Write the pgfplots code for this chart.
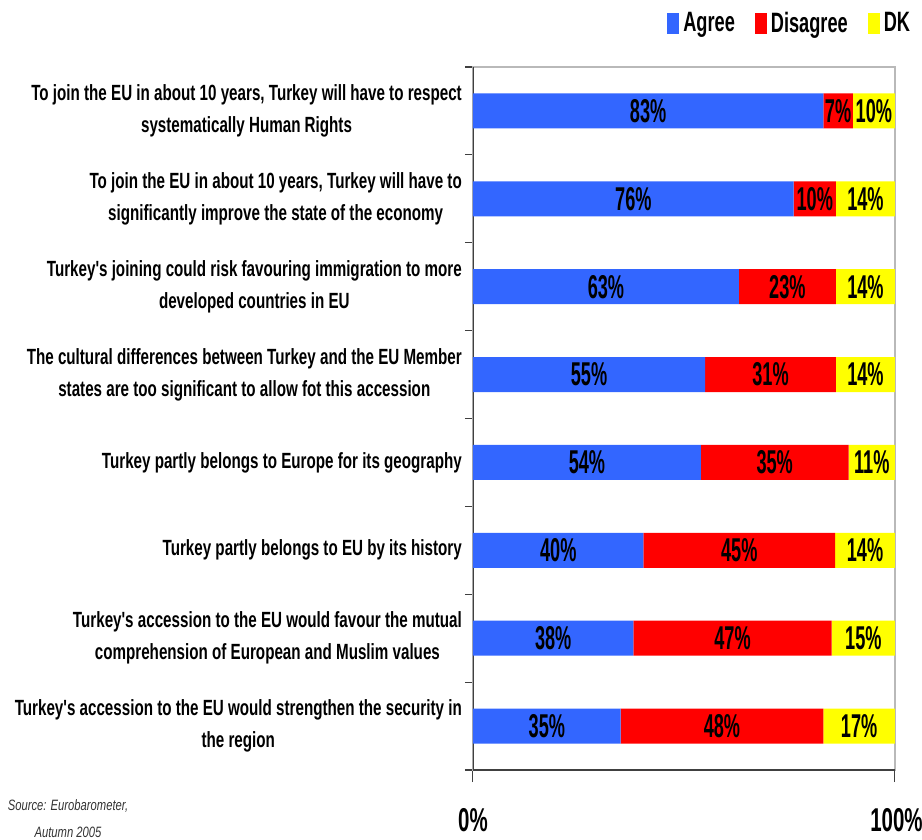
\documentclass[border=0pt]{standalone}
\usepackage{fontspec}
\usepackage{pgfplots}
\usepackage{pgfplotstable}
\pgfplotsset{compat=1.18}
\newfontfamily\nf{Liberation Sans}[FakeStretch=0.69]
\newfontfamily\barfont{Liberation Sans}[FakeStretch=0.55]
\newfontfamily\legfont{Liberation Sans}[FakeStretch=0.65]
\newfontfamily\tickfont{Liberation Sans}[FakeStretch=0.62]
\newfontfamily\srcfont{Liberation Sans}[FakeStretch=0.75]
\setmainfont{Liberation Sans}
\definecolor{agreeblue}{HTML}{3366FF}
\definecolor{disred}{HTML}{FF0000}
\definecolor{dkyellow}{HTML}{FFFF00}
\definecolor{axisdark}{HTML}{404040}

\pgfplotstableread{
cat agree disagree dk
1 83 7 10
2 76 10 14
3 63 23 14
4 55 31 14
5 54 35 11
6 40.4 45.4 14.2
7 38 47 15
8 35 48 17
}\data

\begin{document}
\begin{tikzpicture}
\useasboundingbox (0,0) rectangle (922pt,839pt);
\begin{axis}[
  at={(473pt,69pt)}, anchor=south west,
  scale only axis, width=422pt, height=703pt,
  xbar stacked, bar width=35pt,
  xmin=0, xmax=100, ymin=0.5, ymax=8.5, y dir=reverse,
  axis line style={draw=gray!55, line width=1.2pt},
  xtick={0,100}, xticklabels={0\%,\hspace*{3pt}100\%},
  ytick={1,...,8},
  yticklabels={
    {To join the EU in about 10 years, Turkey will have to respect\\systematically Human Rights},
    {To join the EU in about 10 years, Turkey will have to\\significantly improve the state of the economy},
    {Turkey's joining could risk favouring immigration to more\\developed countries in EU},
    {The cultural differences between Turkey and the EU Member\\states are too significant to allow fot this accession},
    {Turkey partly belongs to Europe for its geography},
    {Turkey partly belongs to EU by its history},
    {Turkey's accession to the EU would favour the mutual\\comprehension of European and Muslim values},
    {Turkey's accession to the EU would strengthen the security in\\the region}
  },
  minor ytick={0.5,1.5,...,8.5},
  tick pos=left,
  tick align=outside,
  major y tick style={draw=none},
  minor y tick style={draw=axisdark, line width=1.2pt},
  minor tick length=8pt,
  major x tick style={draw=axisdark, line width=1pt},
  major tick length=12pt,
  yticklabel style={align=center, inner sep=0pt, xshift=1pt,
    font=\nf\bfseries\fontsize{22}{32}\selectfont},
  xticklabel style={anchor=north, inner sep=0pt, yshift=-26pt,
    font=\tickfont\bfseries\fontsize{33}{33}\selectfont},
  /pgf/number format/assume math mode=true,
  nodes near coords={\pgfmathprintnumber[fixed,precision=0]{\pgfplotspointmeta}\%},
  nodes near coords style={anchor=center, text=black,
    font=\barfont\bfseries\fontsize{33}{33}\selectfont},
  legend columns=3,
  legend style={draw=none, fill=none, at={(rel axis cs:1.048,1.084)}, anchor=north east,
    font=\legfont\bfseries\fontsize{28}{28}\selectfont,
    /tikz/every odd column/.append style={column sep=2pt},
    /tikz/every even column/.append style={column sep=18pt}},
  legend image code/.code={\fill[#1] (0pt,-10.5pt) rectangle (12pt,10.5pt);},
]
\addplot[fill=agreeblue, draw=none] table[x=agree, y=cat, meta=agree] {\data};
\addplot[fill=disred, draw=none] table[x=disagree, y=cat, meta=disagree] {\data};
\addplot[fill=dkyellow, draw=none] table[x=dk, y=cat, meta=dk] {\data};
\legend{Agree,Disagree,DK}
\draw[axisdark, line width=2pt] (rel axis cs:0,0) -- (rel axis cs:0,1);
\draw[axisdark, line width=2.5pt] (rel axis cs:0,0) -- (rel axis cs:1,0);
\end{axis}
\node[align=center, anchor=north, font=\srcfont\itshape\fontsize{15}{27}\selectfont, text=black!80]
  at (68pt,43pt) {Source: Eurobarometer,\\Autumn 2005};
\end{tikzpicture}
\end{document}
